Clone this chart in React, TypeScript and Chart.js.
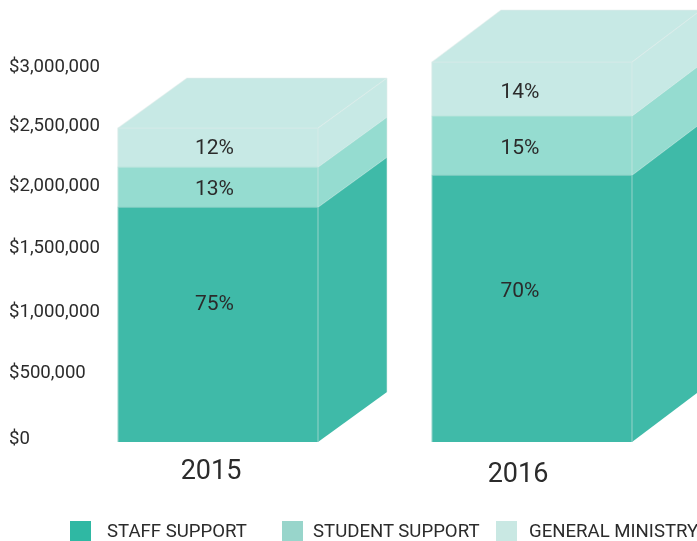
import { useEffect, useRef } from "react";
import { Chart, registerables } from "chart.js";

Chart.register(...registerables);

const years = ["2015", "2016"];
const staffSupport = [1895000, 2153000];
const studentSupport = [322000, 476000];
const generalMinistry = [315000, 435000];
const staffShare = ["75%", "70%"];
const studentShare = ["13%", "15%"];
const generalShare = ["12%", "14%"];
const seriesNames = ["STAFF SUPPORT", "STUDENT SUPPORT", "GENERAL MINISTRY"];
const tickLabels = ["$0", "$500,000", "$1,000,000", "$1,500,000", "$2,000,000", "$2,500,000", "$3,000,000"];
// where each tick label sits on the value axis
const tickAnchors = [24000, 556000, 1049000, 1564000, 2064000, 2549000, 3024000];

const FONT = "Roboto, sans-serif";
const TEXT = "#2b2b2b";
const barColors = ["#3FBAA8", "#95DCD0", "#C7E9E5"];
const swatchColors = ["#2FB8A3", "#98D5CB", "#C9E8E3"];
const shares = [staffShare, studentShare, generalShare];
const depthX = 69;
const depthY = [50, 52];
const shareShiftX = [-3.5, -12];
const shareShiftY = [[-20, -17], [3, 3.5], [1.5, 4]];
const yearShift = [[-7, 30], [-14, 33]];
const legendItems = [
  { box: 70, text: 107 },
  { box: 282, text: 313 },
  { box: 496, text: 529 },
];

const cube3d = {
  id: "cube3d",
  afterDatasetsDraw(chart: any) {
    const { ctx } = chart;
    const count = chart.data.datasets.length;
    ctx.save();
    for (let d = 0; d < count; d++) {
      const meta = chart.getDatasetMeta(d);
      meta.data.forEach((bar: any, i: number) => {
        const left = bar.x - bar.width / 2;
        const right = bar.x + bar.width / 2;
        const top = bar.y;
        const base = bar.base;
        const dx = depthX;
        const dy = depthY[i];
        ctx.fillStyle = barColors[d];
        ctx.beginPath();
        ctx.moveTo(right, top);
        ctx.lineTo(right + dx, top - dy);
        ctx.lineTo(right + dx, base - dy);
        ctx.lineTo(right, base);
        ctx.closePath();
        ctx.fill();
        if (d === count - 1) {
          ctx.beginPath();
          ctx.moveTo(left, top);
          ctx.lineTo(left + dx, top - dy);
          ctx.lineTo(right + dx, top - dy);
          ctx.lineTo(right, top);
          ctx.closePath();
          ctx.fill();
        }
        ctx.lineWidth = 1.2;
        ctx.strokeStyle = "rgba(225,235,232,0.45)";
        ctx.beginPath();
        ctx.moveTo(right, base);
        ctx.lineTo(right, top);
        ctx.moveTo(left, base);
        ctx.lineTo(left, top);
        ctx.lineTo(right, top);
        ctx.lineTo(right + dx, top - dy);
        ctx.moveTo(right + dx, top - dy);
        ctx.lineTo(right + dx, base - dy);
        if (d === count - 1) {
          ctx.moveTo(left, top);
          ctx.lineTo(left + dx, top - dy);
          ctx.lineTo(right + dx, top - dy);
        }
        ctx.stroke();
      });
    }
    ctx.fillStyle = TEXT;
    ctx.textAlign = "center";
    ctx.textBaseline = "middle";
    ctx.font = `21px ${FONT}`;
    for (let d = 0; d < count; d++) {
      chart.getDatasetMeta(d).data.forEach((bar: any, i: number) => {
        ctx.fillText(shares[d][i], bar.x + shareShiftX[i], (bar.y + bar.base) / 2 + shareShiftY[d][i]);
      });
    }
    ctx.font = `27px ${FONT}`;
    const x = chart.scales.x;
    const y0 = chart.scales.y.getPixelForValue(0);
    years.forEach((year, i) => {
      ctx.fillText(year, x.getPixelForValue(i) + yearShift[i][0], y0 + yearShift[i][1]);
    });
    ctx.restore();
  },
};

export default function App() {
  const ref = useRef<HTMLCanvasElement>(null);
  useEffect(() => {
    document.body.style.margin = "0";
    const chart = new Chart(ref.current as HTMLCanvasElement, {
      type: "bar",
      data: {
        labels: years,
        datasets: [staffSupport, studentSupport, generalMinistry].map((data, i) => ({
          label: seriesNames[i],
          data,
          backgroundColor: barColors[i],
          borderWidth: 0,
          barThickness: 200,
        })),
      },
      options: {
        responsive: false,
        animation: false,
        layout: { padding: { left: 9, right: 8, top: 10, bottom: 99 } },
        plugins: { legend: { display: false }, tooltip: { enabled: false } },
        scales: {
          x: {
            stacked: true,
            grid: { display: false },
            border: { display: false },
            ticks: { display: false },
            afterFit: (s: any) => { s.height = 0; },
          },
          y: {
            stacked: true,
            min: 0,
            max: 3484000,
            grid: { display: false },
            border: { display: false },
            afterBuildTicks: (s: any) => { s.ticks = tickAnchors.map((value) => ({ value })); },
            afterFit: (s: any) => {
              s.width = 52;
              s.paddingTop = 0;
              s.paddingBottom = 0;
              // the labels are wider than the narrowed axis box; do not clip them to it
              s._computeLabelArea = () => undefined;
            },
            ticks: {
              autoSkip: false,
              crossAlign: "far",
              padding: 0,
              color: TEXT,
              font: { family: FONT, size: 18.6 },
              callback: (_v: any, i: number) => tickLabels[i],
            },
          },
        },
      },
      plugins: [cube3d],
    } as any);
    return () => chart.destroy();
  }, []);
  return (
    <div style={{ position: "relative", width: 697, height: 541, overflow: "hidden" }}>
      <canvas ref={ref} width={697} height={541} style={{ display: "block" }} />
      {seriesNames.map((name, i) => (
        <div key={name}>
          <div style={{ position: "absolute", left: legendItems[i].box, top: 521, width: 21, height: 20, background: swatchColors[i] }} />
          <div style={{ position: "absolute", left: legendItems[i].text, top: 520, lineHeight: "22px", fontFamily: FONT, fontSize: 18.6, color: TEXT, whiteSpace: "nowrap" }}>{name}</div>
        </div>
      ))}
    </div>
  );
}
